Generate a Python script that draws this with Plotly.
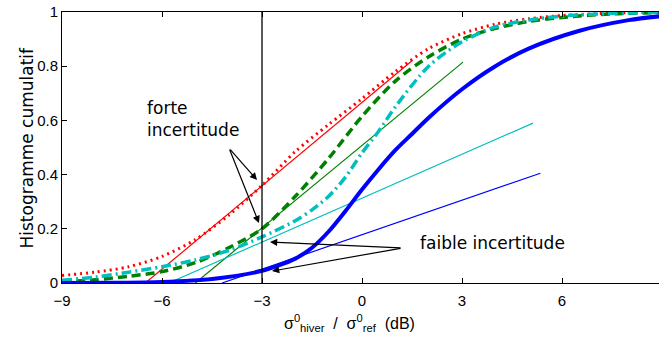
import plotly.graph_objects as go

# ---- data ----
x_red = [-9, -8, -7, -6, -5, -4, -3, -2, -1, 0, 1, 2, 3, 4, 5, 6, 7.5, 9]
y_red = [0.028, 0.04, 0.06, 0.098, 0.16, 0.25, 0.36, 0.485, 0.585, 0.68, 0.78, 0.865, 0.92, 0.955, 0.975, 0.987, 0.996, 1.0]

x_green = [-9, -8, -7, -6, -5, -4, -3, -2, -1, 0, 1, 2, 3, 4, 5, 6, 7.5, 9]
y_green = [0.005, 0.012, 0.025, 0.042, 0.075, 0.13, 0.20, 0.32, 0.46, 0.615, 0.745, 0.835, 0.90, 0.94, 0.965, 0.98, 0.993, 0.998]

x_cyan = [-9, -8, -7, -6, -5, -4, -3, -2, -1.5, -1, -0.5, 0, 0.5, 1, 2, 3, 4, 5, 6, 7.5, 9]
y_cyan = [0.01, 0.022, 0.04, 0.06, 0.085, 0.12, 0.17, 0.23, 0.27, 0.32, 0.39, 0.48, 0.56, 0.65, 0.80, 0.89, 0.945, 0.97, 0.985, 0.995, 0.999]

x_blue = [-9, -7.5, -6, -4.5, -3, -2.5, -2, -1.5, -1, -0.5, 0, 0.5, 1, 1.5, 2, 3, 4, 5, 6.5, 8, 9]
y_blue = [0.0, 0.001, 0.004, 0.015, 0.045, 0.065, 0.09, 0.13, 0.19, 0.265, 0.345, 0.42, 0.49, 0.55, 0.61, 0.715, 0.80, 0.865, 0.93, 0.97, 0.985]

# tangent lines (start/end points in data units)
tan_red_x, tan_red_y = [-6.5, 1.5], [0.0, 0.82]
tan_green_x, tan_green_y = [-5.0, 3.03], [0.0, 0.815]
tan_cyan_x, tan_cyan_y = [-5.8, 5.13], [0.0, 0.59]
tan_blue_x, tan_blue_y = [-4.2, 5.35], [0.0, 0.405]

x_ref = -3  # vertical reference line

x_ticks = [-9, -6, -3, 0, 3, 6, 9]
y_ticks = [0, 0.2, 0.4, 0.6, 0.8, 1]
y_ticklabels = ["0", "0.2", "0.4", "0.6", "0.8", "1"]

RED, GREEN, CYAN, BLUE = "#ff0000", "#008000", "#00bfbf", "#0000ff"

fig = go.Figure()

def curve(x, y, color, width, dash):
    fig.add_trace(go.Scatter(x=x, y=y, mode="lines",
                             line=dict(color=color, width=width, dash=dash, shape="spline", smoothing=0.8),
                             showlegend=False, hoverinfo="skip"))

def straight(x, y, color):
    fig.add_trace(go.Scatter(x=x, y=y, mode="lines", line=dict(color=color, width=1.2),
                             showlegend=False, hoverinfo="skip"))

curve(x_red, y_red, RED, 3, "2px,4px")
straight(tan_red_x, tan_red_y, RED)
curve(x_green, y_green, GREEN, 3.5, "9px,5px")
straight(tan_green_x, tan_green_y, GREEN)
curve(x_cyan, y_cyan, CYAN, 3.5, "10px,4px,2px,4px")
straight(tan_cyan_x, tan_cyan_y, CYAN)
curve(x_blue, y_blue, BLUE, 4, "solid")
straight(tan_blue_x, tan_blue_y, BLUE)

fig.add_shape(type="line", x0=x_ref, x1=x_ref, y0=0, y1=1, xref="x", yref="y",
              line=dict(color="black", width=1.3))

txt_font = dict(family="DejaVu Sans", size=17, color="black")

fig.add_annotation(x=-6.51, y=0.605, xref="x", yref="y", text="forte<br>incertitude", showarrow=False,
                   xanchor="left", yanchor="middle", align="left", font=txt_font)
fig.add_annotation(x=1.68, y=0.147, xref="x", yref="y", text="faible incertitude", showarrow=False,
                   xanchor="left", yanchor="middle", align="left", font=txt_font)

arrows = [
    ((-3.99, 0.498), (-3.15, 0.38)),
    ((-3.99, 0.498), (-3.09, 0.221)),
    ((1.2, 0.129), (-2.76, 0.151)),
    ((1.2, 0.129), (-2.70, 0.044)),
]
for (tx, ty), (hx, hy) in arrows:
    fig.add_annotation(x=hx, y=hy, ax=tx, ay=ty, xref="x", yref="y", axref="x", ayref="y", text="",
                       showarrow=True, arrowhead=2, arrowsize=1.2, arrowwidth=1.2, arrowcolor="black")

# axis titles
fig.add_annotation(x=(26 - 62) / 597, y=0.5, xref="paper", yref="paper", text="Histogramme cumulatif",
                   textangle=-90, showarrow=False, xanchor="center", yanchor="middle", font=txt_font)
fig.add_annotation(x=(349 - 62) / 597, y=-(323 - 283) / 271, xref="paper", yref="paper",
                   text="σ<sup>0</sup><sub>hiver</sub>  /  σ<sup>0</sup><sub>ref</sub>  (dB)",
                   showarrow=False, xanchor="center", yanchor="middle",
                   font=dict(family="Liberation Sans", size=16, color="black"))

tick_font = dict(family="Liberation Sans", size=15, color="black")
fig.update_xaxes(range=[-9, 8.91], tickvals=x_ticks, ticks="inside", ticklen=5, tickcolor="black",
                 showline=True, linecolor="black", linewidth=1, mirror="ticks", showgrid=False, zeroline=False,
                 tickfont=tick_font, ticklabelstandoff=4)
fig.update_yaxes(range=[0, 1], tickvals=y_ticks, ticktext=y_ticklabels, ticks="inside", ticklen=5, tickcolor="black",
                 showline=True, linecolor="black", linewidth=1, mirror=False, showgrid=False, zeroline=False,
                 tickfont=tick_font)

fig.update_layout(width=659, height=340, autosize=False, margin=dict(l=62, r=0, t=12, b=57),
                  plot_bgcolor="white", paper_bgcolor="white")

fig.write_html("out.html", config={"displayModeBar": False},
               post_script="document.body.style.margin='0';document.body.style.overflow='hidden';")
